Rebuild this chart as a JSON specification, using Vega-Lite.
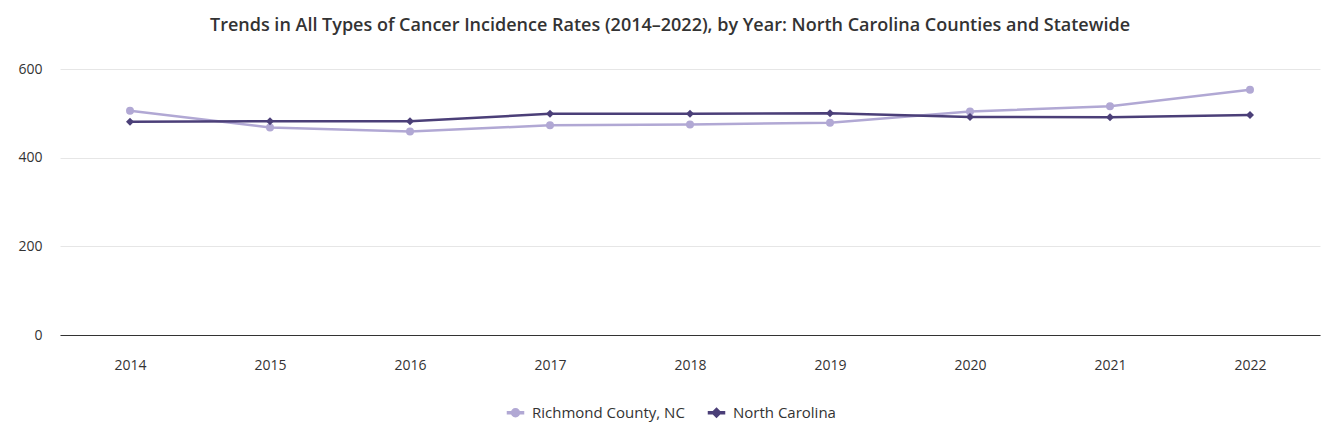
{
  "$schema": "https://vega.github.io/schema/vega-lite/v6.json",
  "width": 1260,
  "height": 266,
  "autosize": {"type": "none"},
  "padding": {"left": 60, "top": 69, "right": 10, "bottom": 112},
  "background": "white",
  "title": {
    "text": "Trends in All Types of Cancer Incidence Rates (2014–2022), by Year: North Carolina Counties and Statewide",
    "font": "Open Sans",
    "fontSize": 18,
    "fontWeight": 600,
    "color": "#333333",
    "anchor": "middle",
    "offset": 27,
    "dx": -20
  },
  "config": {
    "view": {"stroke": null},
    "axis": {"labelFont": "Open Sans", "labelFontSize": 14, "labelColor": "#333333"}
  },
  "data": {
    "values": [
      {"year": "2014", "series": "Richmond County, NC", "rate": 506},
      {"year": "2015", "series": "Richmond County, NC", "rate": 468},
      {"year": "2016", "series": "Richmond County, NC", "rate": 459},
      {"year": "2017", "series": "Richmond County, NC", "rate": 473},
      {"year": "2018", "series": "Richmond County, NC", "rate": 475},
      {"year": "2019", "series": "Richmond County, NC", "rate": 479},
      {"year": "2020", "series": "Richmond County, NC", "rate": 504},
      {"year": "2021", "series": "Richmond County, NC", "rate": 516},
      {"year": "2022", "series": "Richmond County, NC", "rate": 553},
      {"year": "2014", "series": "North Carolina", "rate": 481},
      {"year": "2015", "series": "North Carolina", "rate": 482},
      {"year": "2016", "series": "North Carolina", "rate": 482},
      {"year": "2017", "series": "North Carolina", "rate": 499},
      {"year": "2018", "series": "North Carolina", "rate": 499},
      {"year": "2019", "series": "North Carolina", "rate": 500},
      {"year": "2020", "series": "North Carolina", "rate": 492},
      {"year": "2021", "series": "North Carolina", "rate": 491},
      {"year": "2022", "series": "North Carolina", "rate": 496}
    ]
  },
  "encoding": {
    "x": {
      "field": "year", "type": "ordinal",
      "scale": {"type": "point", "padding": 0.5},
      "axis": {"title": null, "labelAngle": 0, "ticks": false, "labelPadding": 23, "domainColor": "#333333", "domainWidth": 1, "grid": false}
    },
    "y": {
      "field": "rate", "type": "quantitative",
      "scale": {"domain": [0, 600]},
      "axis": {"title": null, "values": [0, 200, 400, 600], "ticks": false, "domain": false, "labelPadding": 18, "gridColor": "#e6e6e6", "gridWidth": 1}
    },
    "color": {
      "field": "series", "type": "nominal",
      "scale": {"domain": ["Richmond County, NC", "North Carolina"], "range": ["#b1a8d4", "#4b3f78"]},
      "legend": {
        "title": null,
        "orient": "none",
        "direction": "horizontal",
        "legendX": 448,
        "legendY": 336,
        "labelFont": "Open Sans",
        "labelFontSize": 15,
        "labelColor": "#333333",
        "symbolSize": 64,
        "columnPadding": 20,
        "labelOffset": 9,
        "encode": {
          "symbols": {
            "update": {
              "shape": {"signal": "datum.value == 'North Carolina' ? 'M-2,-0.25L2,-0.25L2,0.25L-2,0.25ZM0,-1.1L1.1,0L0,1.1L-1.1,0Z' : 'M-2,-0.25L2,-0.25L2,0.25L-2,0.25ZM-1,0A1,1 0 1,1 1,0A1,1 0 1,1 -1,0Z'"},
              "fill": {"signal": "datum.value == 'North Carolina' ? '#4b3f78' : '#b1a8d4'"},
              "fillOpacity": {"value": 1},
              "opacity": {"value": 1}
            }
          }
        }
      }
    }
  },
  "layer": [
    {
      "mark": {"type": "line", "strokeWidth": 2.5}
    },
    {
      "transform": [{"filter": "datum.series == 'Richmond County, NC'"}],
      "mark": {"type": "point", "shape": "circle", "filled": true, "opacity": 1, "size": 64}
    },
    {
      "transform": [{"filter": "datum.series == 'North Carolina'"}],
      "mark": {"type": "point", "shape": "diamond", "filled": true, "opacity": 1, "size": 64}
    }
  ]
}
